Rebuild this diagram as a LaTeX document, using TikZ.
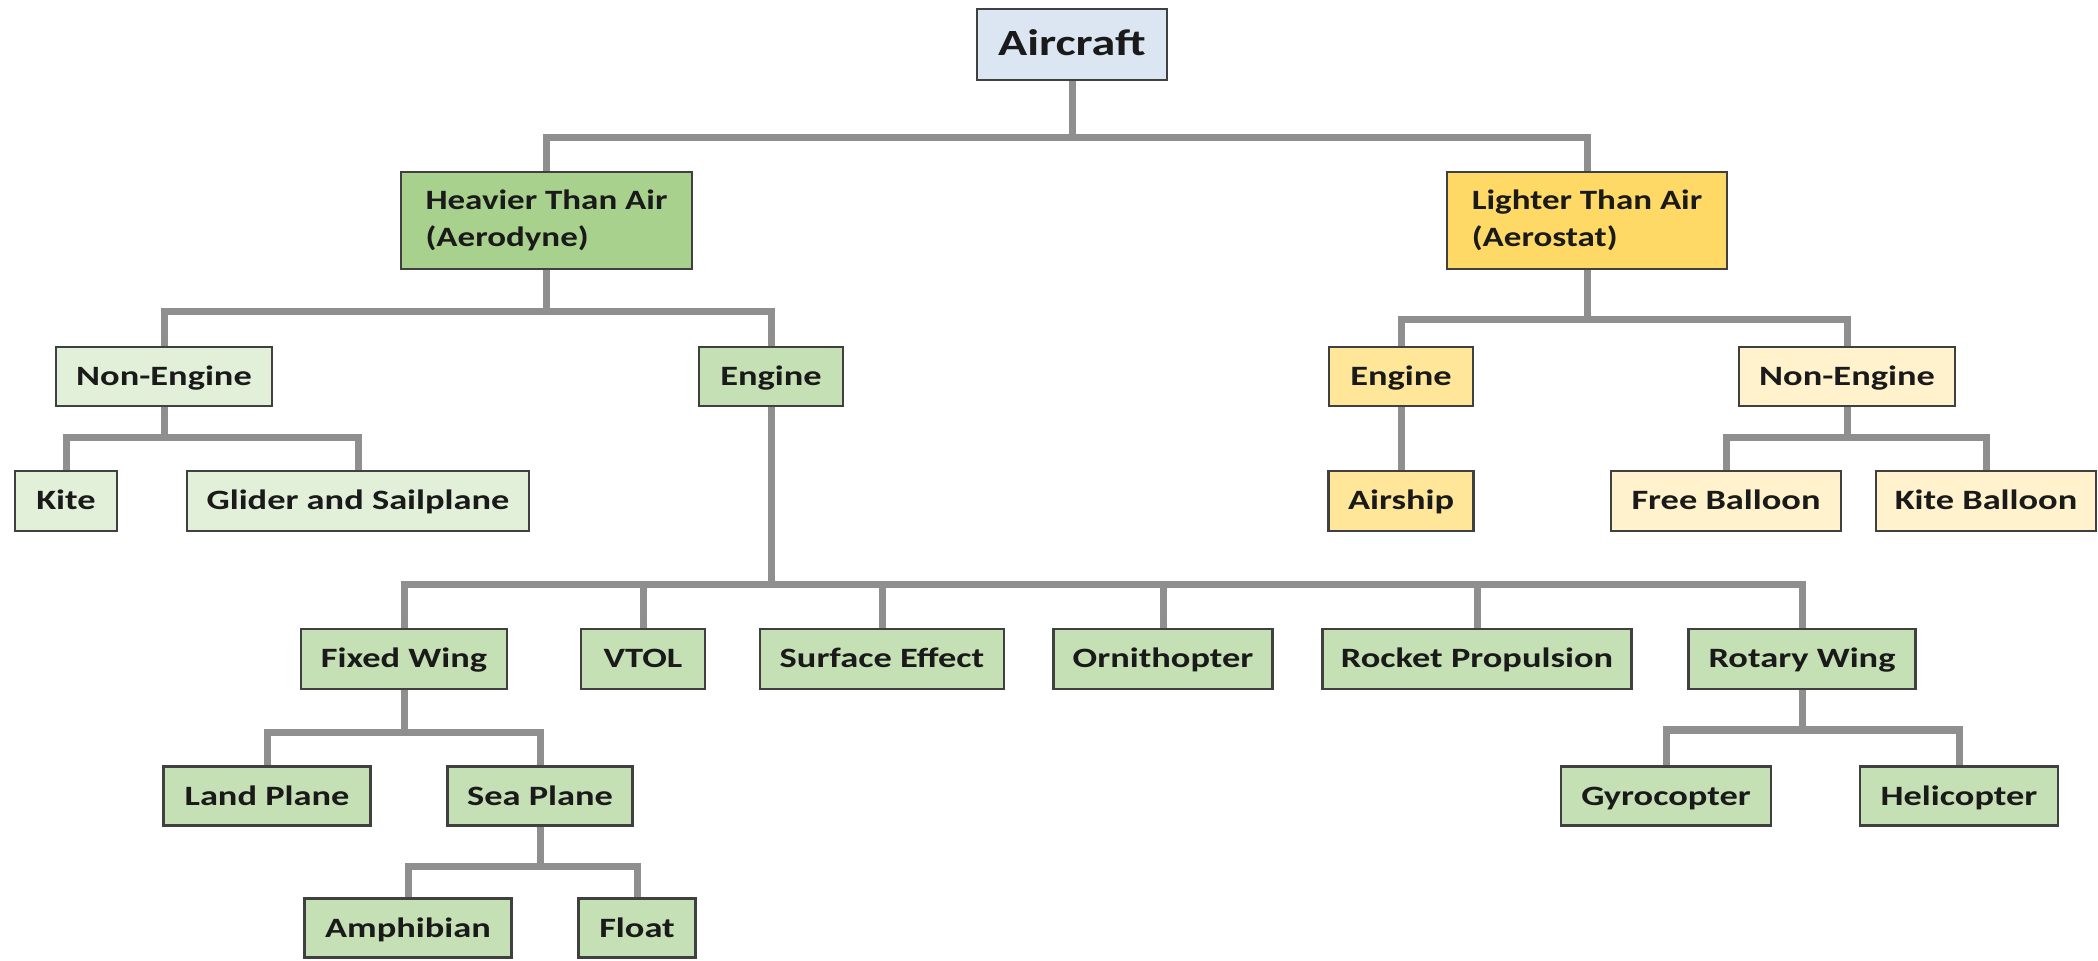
\documentclass[tikz,border=0pt]{standalone}
\usepackage{fontspec}
\newfontfamily\labfont{Carlito}[FakeStretch=1.3]
\newfontfamily\labfontn{Carlito}[FakeStretch=1.25]
\definecolor{bordc}{HTML}{404040}
\definecolor{connc}{HTML}{8F8F8F}
\definecolor{txtc}{HTML}{1A1A1A}
\definecolor{blue1}{HTML}{DCE6F2}
\definecolor{green1}{HTML}{A9D18E}
\definecolor{green2}{HTML}{C5E0B4}
\definecolor{green3}{HTML}{E2F0D9}
\definecolor{yel1}{HTML}{FFD966}
\definecolor{yel2}{HTML}{FFE699}
\definecolor{yel3}{HTML}{FFF2CC}
\tikzset{
  box/.style={draw=bordc, line width=1.25pt, inner sep=0pt, text=txtc,
    font=\labfont\bfseries\fontsize{14}{18}\selectfont, minimum height=29.5pt,
    text height=11pt, text depth=2pt},
  twoline/.style={align=left, text height=, text depth=,
    font=\labfontn\bfseries\fontsize{14}{18.5}\selectfont},
  bw/.style={minimum width=#1*0.5pt},
  bh/.style={minimum height=#1*0.5pt},
  conn/.style={draw=connc, line width=3.5pt, line join=miter},
}
\begin{document}
\begin{tikzpicture}[x=0.5pt,y=-0.5pt]
\useasboundingbox (0,0) rectangle (2098,961);
% bar levels
\coordinate (yroot) at (0,138);
\coordinate (yheavy) at (0,312);
\coordinate (ylight) at (0,320);
\coordinate (yneA) at (0,438);
\coordinate (yneB) at (0,438);
\coordinate (yeng) at (0,585);
\coordinate (yfixed) at (0,732);
\coordinate (yrotary) at (0,730);
\coordinate (ysea) at (0,866);
% nodes
\node[box, fill=blue1, bw=190, bh=71, text height=14pt, text depth=3pt, font=\labfont\bfseries\fontsize{18.5}{22}\selectfont] (air) at (1072,44.5) {Aircraft};
\node[box, twoline, fill=green1, bw=291, bh=97] (heavy) at (546.5,220.5) {Heavier Than Air\\(Aerodyne)};
\node[box, twoline, fill=yel1, bw=280, bh=97] (light) at (1587,220.5) {Lighter Than Air\\(Aerostat)};
\node[box, fill=green3, bw=216] (neA) at (164,376.5) {Non-Engine};
\node[box, fill=green2, bw=144] (engA) at (771,376.5) {Engine};
\node[box, fill=yel2, bw=144] (engB) at (1401,376.5) {Engine};
\node[box, fill=yel3, bw=216] (neB) at (1847,376.5) {Non-Engine};
\node[box, fill=green3, bw=102, bh=60] (kite) at (66,501) {Kite};
\node[box, fill=green3, bw=342, bh=60] (glider) at (358,501) {Glider and Sailplane};
\node[box, fill=yel2, bw=145, bh=60] (airship) at (1401,501) {Airship};
\node[box, fill=yel3, bw=230, bh=60] (free) at (1726,501) {Free Balloon};
\node[box, fill=yel3, bw=220, bh=60] (kiteb) at (1986,501) {Kite Balloon};
\node[box, fill=green2, bw=206, bh=60] (fixed) at (404,659) {Fixed Wing};
\node[box, fill=green2, bw=124, bh=60] (vtol) at (643,659) {VTOL};
\node[box, fill=green2, bw=244, bh=60] (surf) at (882,659) {Surface Effect};
\node[box, fill=green2, bw=219, bh=60] (orni) at (1163,659) {Ornithopter};
\node[box, fill=green2, bw=309, bh=60] (rocket) at (1477,659) {Rocket Propulsion};
\node[box, fill=green2, bw=227, bh=60] (rotary) at (1802,659) {Rotary Wing};
\node[box, fill=green2, bw=207, bh=59] (land) at (267,796) {Land Plane};
\node[box, fill=green2, bw=185, bh=59] (sea) at (540,796) {Sea Plane};
\node[box, fill=green2, bw=210, bh=59] (gyro) at (1666,796) {Gyrocopter};
\node[box, fill=green2, bw=198, bh=59] (heli) at (1959,796) {Helicopter};
\node[box, fill=green2, bw=207, bh=59] (amph) at (408,928) {Amphibian};
\node[box, fill=green2, bw=117, bh=59] (float) at (637,928) {Float};
% connectors
\draw[conn] (air.south) -- (air.south |- yroot);
\draw[conn] (heavy.north) -- (heavy.north |- yroot) -- (light.north |- yroot) -- (light.north);

\draw[conn] (heavy.south) -- (heavy.south |- yheavy);
\draw[conn] (neA.north) -- (neA.north |- yheavy) -- (engA.north |- yheavy) -- (engA.north);

\draw[conn] (light.south) -- (light.south |- ylight);
\draw[conn] (engB.north) -- (engB.north |- ylight) -- (neB.north |- ylight) -- (neB.north);

\draw[conn] (neA.south) -- (neA.south |- yneA);
\draw[conn] (kite.north) -- (kite.north |- yneA) -- (glider.north |- yneA) -- (glider.north);

\draw[conn] (engB.south) -- (airship.north);

\draw[conn] (neB.south) -- (neB.south |- yneB);
\draw[conn] (free.north) -- (free.north |- yneB) -- (kiteb.north |- yneB) -- (kiteb.north);

\draw[conn] (engA.south) -- (engA.south |- yeng);
\draw[conn] (fixed.north) -- (fixed.north |- yeng) -- (rotary.north |- yeng) -- (rotary.north);
\draw[conn] (vtol.north |- yeng) -- (vtol.north);
\draw[conn] (surf.north |- yeng) -- (surf.north);
\draw[conn] (orni.north |- yeng) -- (orni.north);
\draw[conn] (rocket.north |- yeng) -- (rocket.north);

\draw[conn] (fixed.south) -- (fixed.south |- yfixed);
\draw[conn] (land.north) -- (land.north |- yfixed) -- (sea.north |- yfixed) -- (sea.north);

\draw[conn] (rotary.south) -- (rotary.south |- yrotary);
\draw[conn] (gyro.north) -- (gyro.north |- yrotary) -- (heli.north |- yrotary) -- (heli.north);

\draw[conn] (sea.south) -- (sea.south |- ysea);
\draw[conn] (amph.north) -- (amph.north |- ysea) -- (float.north |- ysea) -- (float.north);
\end{tikzpicture}
\end{document}
